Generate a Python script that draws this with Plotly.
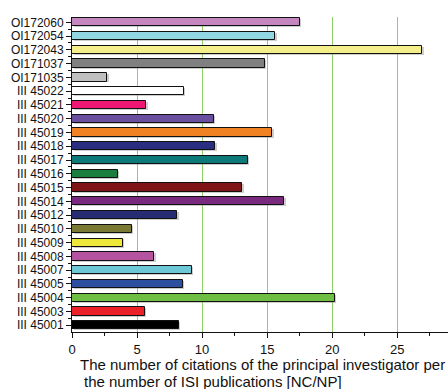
import plotly.graph_objects as go

# Project codes, listed bottom to top
projects = [
    "III 45001", "III 45003", "III 45004", "III 45005", "III 45007",
    "III 45008", "III 45009", "III 45010", "III 45012", "III 45014",
    "III 45015", "III 45016", "III 45017", "III 45018", "III 45019",
    "III 45020", "III 45021", "III 45022", "OI171035", "OI171037",
    "OI172043", "OI172054", "OI172060",
]

# Citations per ISI publication of the principal investigator [NC/NP]
nc_np = [
    8.2, 5.6, 20.2, 8.5, 9.2,
    6.3, 3.9, 4.6, 8.1, 16.3,
    13.1, 3.5, 13.5, 11.0, 15.4,
    10.9, 5.7, 8.6, 2.7, 14.8,
    26.9, 15.6, 17.5,
]

bar_colors = [
    "#000000", "#EC2027", "#6EBE44", "#2D4FA0", "#6CC8D6",
    "#B653A0", "#EEE83A", "#7A7A35", "#262C72", "#7A2A7E",
    "#7E1416", "#197E3E", "#0D7A7A", "#2A2E80", "#F18223",
    "#6B4F9F", "#EE1874", "#FFFFFF", "#C0C0C0", "#808080",
    "#F4EF8A", "#93D6E3", "#C585BE",
]

x_ticks = [0, 5, 10, 15, 20, 25]
title_lines = [
    "The number of citations of the principal investigator per",
    "the number of ISI publications [NC/NP]",
]

pos = list(range(len(projects)))

fig = go.Figure()

# soft drop shadow behind each bar
fig.add_trace(go.Bar(
    x=nc_np, y=[p - 0.07 for p in pos], orientation="h", width=0.6,
    marker=dict(color="rgba(130,130,130,0.4)", line=dict(width=0)),
    base=[0.12] * len(pos), hoverinfo="skip", showlegend=False,
))

fig.add_trace(go.Bar(
    x=nc_np, y=pos, orientation="h", width=0.6,
    marker=dict(color=bar_colors, line=dict(color="#111111", width=1)),
    showlegend=False,
))

fig.update_layout(
    width=448, height=389,
    margin=dict(l=72, r=0, t=17, b=57),
    paper_bgcolor="white", plot_bgcolor="white",
    font=dict(family="Liberation Sans, Arial, sans-serif", color="#111111"),
    barmode="overlay",
    bargap=0,
)

# two-line axis caption, left aligned with a slight indent on the second line
fig.add_annotation(text=title_lines[0], xref="paper", yref="paper",
                   x=0.015, y=-0.102, xanchor="left", yanchor="middle",
                   showarrow=False, font=dict(size=15, color="#111111"))
fig.add_annotation(text=title_lines[1], xref="paper", yref="paper",
                   x=0.026, y=-0.157, xanchor="left", yanchor="middle",
                   showarrow=False, font=dict(size=15, color="#111111"))

fig.update_xaxes(
    range=[0, 28.9],
    tickvals=x_ticks,
    ticks="outside", ticklen=5, tickcolor="#111111",
    tickfont=dict(size=13),
    minor=dict(dtick=2.5, tick0=0, ticks="outside", ticklen=3, tickcolor="#111111",
               showgrid=False),
    showgrid=True, gridcolor="#8FCF6A", gridwidth=1,
    showline=True, linecolor="#111111", linewidth=1,
    zeroline=False, automargin=False,
)

fig.update_yaxes(
    range=[-0.49, len(projects) - 1 + 0.385],
    tickvals=pos, ticktext=projects,
    ticks="outside", ticklen=5, tickcolor="#111111",
    tickfont=dict(size=12),
    minor=dict(dtick=1, tick0=0.5, ticks="outside", ticklen=3, tickcolor="#111111",
               showgrid=False),
    showgrid=False,
    showline=True, linecolor="#111111", linewidth=1,
    zeroline=False, automargin=False,
)

fig.write_html("out.html")
